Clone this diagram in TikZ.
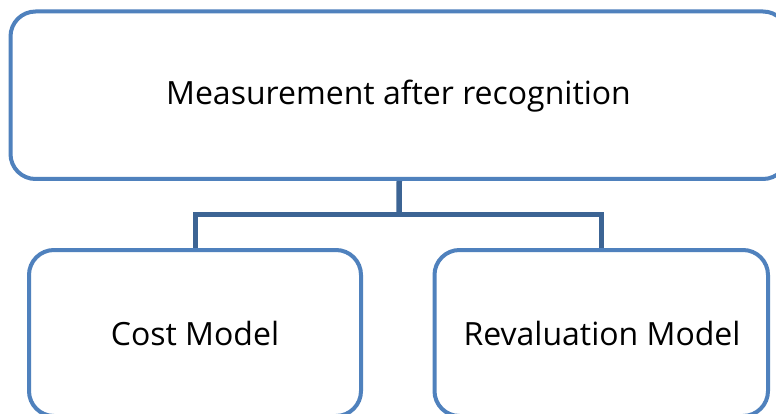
\documentclass[tikz,border=0pt]{standalone}
\usepackage{fontspec}
\setmainfont{Open Sans}
\definecolor{boxblue}{HTML}{4F81BD}
\definecolor{linkblue}{HTML}{3C6494}
\begin{document}
\begin{tikzpicture}[x=1pt,y=-1pt,
  roundbox/.style={draw=boxblue, line width=4pt, rounded corners=25pt, fill=white, inner sep=0pt},
  lbl/.style={font=\fontsize{32}{38}\selectfont, text=black, inner sep=0pt},
  link/.style={draw=linkblue, line width=5.5pt}]
\useasboundingbox (0,0) rectangle (776,414);
\clip (0,0) rectangle (776,414);
\fill[white] (0,0) rectangle (776,414);
% connectors (behind boxes)
\coordinate (j) at (399,214.5);
\coordinate (jl) at (195.5,214.5);
\coordinate (jr) at (601.5,214.5);
\node[roundbox, minimum width=777.5pt, minimum height=167.5pt] (top) at (399.25,95.25) {};
\node[roundbox, minimum width=332pt, minimum height=166pt] (left) at (195,333) {};
\node[roundbox, minimum width=333.5pt, minimum height=166pt] (right) at (601.25,333) {};
\draw[link] (top.south) -- (j);
\draw[link, line cap=rect] (jl) -- (jr);
\draw[link] (jl) -- (jl |- left.north);
\draw[link] (jr) -- (jr |- right.north);
\node[lbl] (t1) at (398.5,96) {Measurement after recognition};
\node[lbl] (t2) at (195,333) {Cost Model};
\node[lbl] (t3) at (602,333) {Revaluation Model};
\end{tikzpicture}
\end{document}
